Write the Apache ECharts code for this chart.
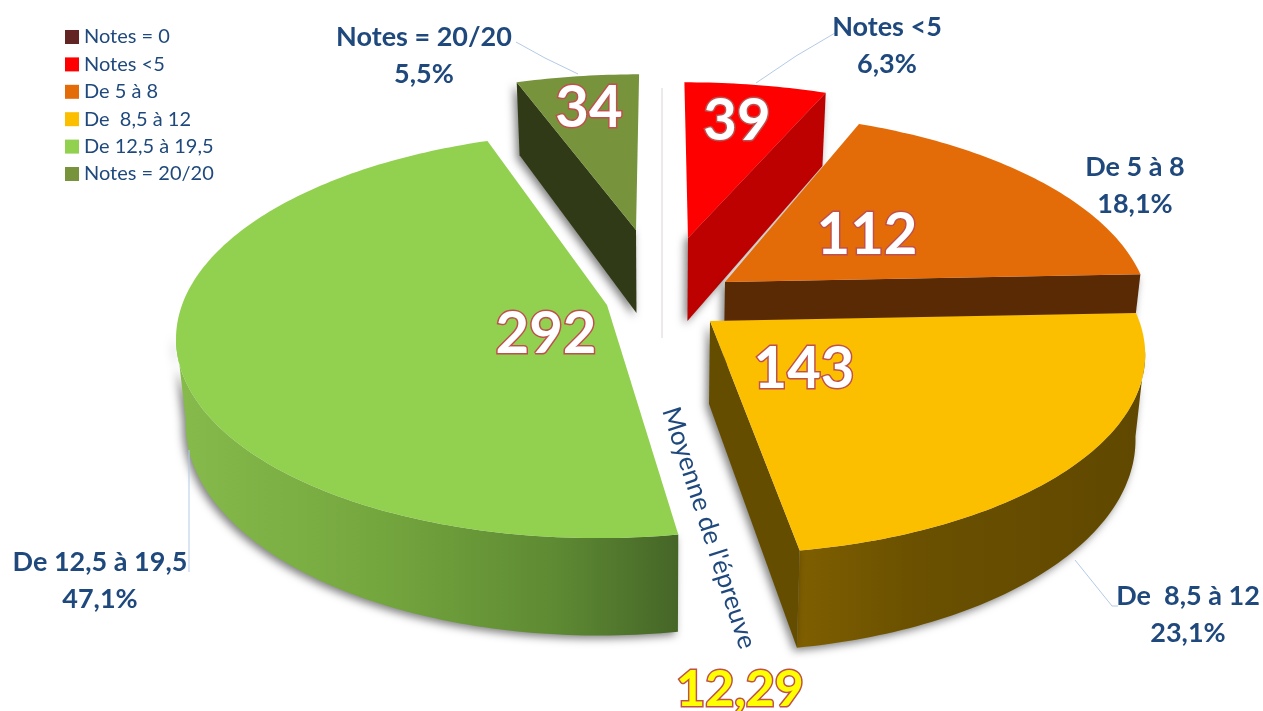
<!DOCTYPE html>
<html><head><meta charset="utf-8">
<style>html,body{margin:0;padding:0;background:#fff}#c{width:1263px;height:711px}</style>
<script src="https://cdn.jsdelivr.net/npm/echarts@6/dist/echarts.min.js"></script>
</head><body><div id="c"></div>
<script>
const categories = ['Notes = 0','Notes <5','De 5 à 8','De  8,5 à 12','De 12,5 à 19,5','Notes = 20/20'];
const counts = [0, 39, 112, 143, 292, 34];
const colors = ['#632523','#ff0000','#e36c09','#fcbf00','#92d050','#77933c'];
const meanLabel = "Moyenne de l'épreuve";
const meanValue = '12,29';

const total = counts.reduce((a,b)=>a+b,0);
const fmtPct = v => (v/total*100).toFixed(1).replace('.',',') + '%';

/* perspective of the disc */
const VP = {vx:660, k:0.148, rx:425, ry:198.6, h:83, bottomScale:0.98};
/* per-slice drawing layout, same order as categories */
const sliceLayout = [
  null,
  {ax:688, ay:238, sx:0.98, sy:0.9,  faces:['end'],   cut:'#bd0000'},
  {ax:725, ay:282, sx:0.985,sy:0.98, faces:['end'],   cut:'#5a2a04'},
  {ax:710, ay:321, sx:1.01, sy:1,    faces:['end'],   cut:'#654d00', wall:[795,1140,[[0,'#7f5f00'],[0.35,'#6a5000'],[1,'#604800']]]},
  {ax:607, ay:305, sx:1,    sy:1,    faces:[],        cut:'#456527', wall:[182,680,[[0,'#86ba4b'],[0.4,'#74a63e'],[0.75,'#5e8a33'],[1,'#456527']]]},
  {ax:636, ay:230, sx:0.97, sy:0.9,  faces:['start'], cut:'#303a16'}
];

function project(L, a){
  const u=Math.sin(a), v=-Math.cos(a), w=1-VP.k*v;
  return {x: VP.vx+(L.ax-VP.vx+VP.rx*L.sx*u)/w, y: L.ay+VP.ry*L.sy*v/w, w};
}
function drop(L, p){
  return [VP.vx+(p.x-VP.vx)*VP.bottomScale, p.y+VP.h/p.w];
}
function apexPoint(L){ return {x:L.ax,y:L.ay,w:1}; }

const shadow = {shadowBlur:8, shadowOffsetX:-3, shadowOffsetY:3, shadowColor:'rgba(0,0,0,0.5)'};

function sliceBounds(i){
  let s=0; for(let j=0;j<i;j++) s+=counts[j];
  return [s/total*2*Math.PI,(s+counts[i])/total*2*Math.PI];
}

function makeRender(i){
  return function(params, api){
    const L=sliceLayout[i], val=api.value(0);
    if(!L || !val) return {type:'group',children:[]};
    const [a0,a1]=sliceBounds(i);
    const n=Math.max(4,Math.round((a1-a0)*180/Math.PI));
    const arc=[]; for(let t=0;t<=n;t++) arc.push(project(L,a0+(a1-a0)*t/n));
    const apex=apexPoint(L);
    const children=[];
    /* outer wall: only the part of the rim that faces the viewer */
    if(L.wall){
      const front=arc.filter(p=>p.y>=L.ay+30);
      const pts=front.map(p=>[p.x,p.y]).concat(front.slice().reverse().map(p=>drop(L,p)));
      children.push({type:'polygon',shape:{points:pts},style:Object.assign({
        fill:new echarts.graphic.LinearGradient(L.wall[0],0,L.wall[1],0,
          L.wall[2].map(s=>({offset:s[0],color:s[1]})),true)},shadow)});
    }
    /* cut faces */
    L.faces.forEach(f=>{
      const e=f==='start'?arc[0]:arc[arc.length-1];
      children.push({type:'polygon',shape:{points:[[apex.x,apex.y],[e.x,e.y],drop(L,e),drop(L,apex)]},
        style:Object.assign({fill:L.cut},shadow)});
    });
    /* top */
    children.push({type:'polygon',shape:{points:[[apex.x,apex.y]].concat(arc.map(p=>[p.x,p.y]))},
      style:{fill:api.visual('color')}});
    return {type:'group',children};
  };
}

const series=categories.map((name,i)=>({
  type:'custom', name, coordinateSystem:'none', silent:true,
  itemStyle:{color:colors[i]},
  data:[[counts[i]]],
  renderItem:makeRender(i)
}));

/* annotation layout */
const labelFont='Lato, Carlito, sans-serif';
const navy='#1f497d';
const catLabelPos=[null,[887,46],[1135,186],[1188,615],[100,581],[424,56]];
const valuePos=[null,[737,121],[867,235],[804,369],[546,334],[589,108]];
const leaders=[
  [[756,83],[796,56],[835,33]],
  [[578,74],[545,58],[516,42]],
  [[189,450],[189,572]],
  [[1075,560],[1112,606],[1118,606]]
];
const graphicEls=[];
leaders.forEach(pts=>graphicEls.push({type:'polyline',z:50,silent:true,shape:{points:pts},
  style:{fill:null,stroke:'#b4cbe6',lineWidth:1}}));
graphicEls.push({type:'line',z:1,silent:true,shape:{x1:662,y1:88,x2:662,y2:338},style:{stroke:'#dcd3d6',lineWidth:1}});
categories.forEach((name,i)=>{
  if(!catLabelPos[i]) return;
  graphicEls.push({type:'text',z:60,silent:true,x:catLabelPos[i][0],y:catLabelPos[i][1],style:{
    text:name+'\n'+fmtPct(counts[i]),fill:navy,font:'bold 27px '+labelFont,lineHeight:37,align:'center',verticalAlign:'middle'}});
  graphicEls.push({type:'text',z:60,silent:true,x:valuePos[i][0],y:valuePos[i][1],style:{
    text:String(counts[i]),fill:'#ffffff',font:'bold 58px '+labelFont,align:'center',verticalAlign:'middle',
    stroke:'#c0504d',lineWidth:3,strokeFirst:true,shadowBlur:0,shadowOffsetX:2,shadowOffsetY:2,shadowColor:'#c0504d'}});
});
graphicEls.push({type:'text',z:60,silent:true,x:709,y:528,rotation:-72*Math.PI/180,style:{
  text:meanLabel,fill:navy,font:'26px '+labelFont,align:'center',verticalAlign:'middle'}});
graphicEls.push({type:'text',z:60,silent:true,x:740,y:690,style:{
  text:meanValue,fill:'#ffff00',font:'bold 50px '+labelFont,align:'center',verticalAlign:'middle',
  stroke:'#c0504d',lineWidth:3,strokeFirst:true}});

const chart=echarts.init(document.getElementById('c'),null,{renderer:'canvas'});
chart.setOption({
  animation:false,
  backgroundColor:'#ffffff',
  legend:{
    orient:'vertical',left:60,top:22,icon:'rect',itemWidth:14,itemHeight:14,itemGap:7.4,
    data:categories,selectedMode:false,
    textStyle:{color:navy,fontSize:20,fontFamily:labelFont}
  },
  series,
  graphic:{elements:graphicEls}
});
</script></body></html>
